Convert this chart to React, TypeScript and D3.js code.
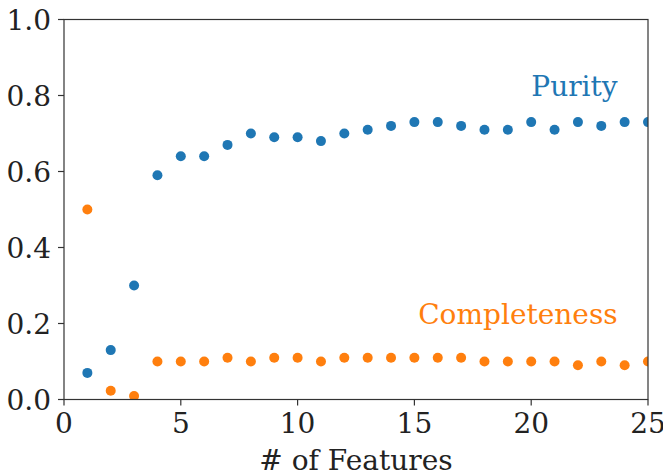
import React from "react";
import * as d3 from "d3";

const features = [1,2,3,4,5,6,7,8,9,10,11,12,13,14,15,16,17,18,19,20,21,22,23,24,25];
const purity = [0.07,0.13,0.30,0.59,0.64,0.64,0.67,0.70,0.69,0.69,0.68,0.70,0.71,0.72,0.73,0.73,0.72,0.71,0.71,0.73,0.71,0.73,0.72,0.73,0.73];
const completeness = [0.50,0.023,0.009,0.10,0.10,0.10,0.11,0.10,0.11,0.11,0.10,0.11,0.11,0.11,0.11,0.11,0.11,0.10,0.10,0.10,0.10,0.09,0.10,0.09,0.10];
const xTicks = [0,5,10,15,20,25];
const yTicks = [0,0.2,0.4,0.6,0.8,1.0];
const seriesLabels = ["Purity", "Completeness"];
const colors = ["#1f77b4", "#ff7f0e"];

const W = 663, H = 475;
const left = 64, right = 648, top = 19.5, bottom = 399.5;
const font = "'DejaVu Serif', serif";
const fs = 28;

export default function App() {
  const x = d3.scaleLinear().domain([0, 25]).range([left, right]);
  const y = d3.scaleLinear().domain([0, 1]).range([bottom, top]);
  const series = [purity, completeness];
  const labelPos = [{ x: 23.7, y: 0.8 }, { x: 23.7, y: 0.2 }];
  return (
    <svg width={W} height={H} style={{ position: "absolute", left: 0, top: 0, background: "#fff" }}>
      <defs>
        <clipPath id="plot">
          <rect x={left} y={top} width={right - left} height={bottom - top} />
        </clipPath>
      </defs>
      <g clipPath="url(#plot)">
        {series.map((s, si) =>
          s.map((v, i) => (
            <circle key={`${si}-${i}`} cx={x(features[i])} cy={y(v)} r={5} fill={colors[si]} />
          ))
        )}
      </g>
      <rect x={left} y={top} width={right - left} height={bottom - top} fill="none" stroke="#333" strokeWidth={1.2} />
      {xTicks.map((t) => (
        <g key={`x${t}`}>
          <line x1={x(t)} x2={x(t)} y1={bottom} y2={bottom + 6} stroke="#333" strokeWidth={1.2} />
          <text x={x(t)} y={bottom + 33.5} textAnchor="middle" fontFamily={font} fontSize={fs} fill="#222">{t}</text>
        </g>
      ))}
      {yTicks.map((t) => (
        <g key={`y${t}`}>
          <line x1={left - 6} x2={left} y1={y(t)} y2={y(t)} stroke="#333" strokeWidth={1.2} />
          <text x={left - 13} y={y(t) + 10.5} textAnchor="end" fontFamily={font} fontSize={fs} fill="#222">{t.toFixed(1)}</text>
        </g>
      ))}
      <text x={(left + right) / 2} y={470} textAnchor="middle" fontFamily={font} fontSize={fs} fill="#222"># of Features</text>
      {seriesLabels.map((l, i) => (
        <text key={l} x={x(labelPos[i].x)} y={y(labelPos[i].y)} textAnchor="end" fontFamily={font} fontSize={fs} fill={colors[i]}>{l}</text>
      ))}
    </svg>
  );
}
